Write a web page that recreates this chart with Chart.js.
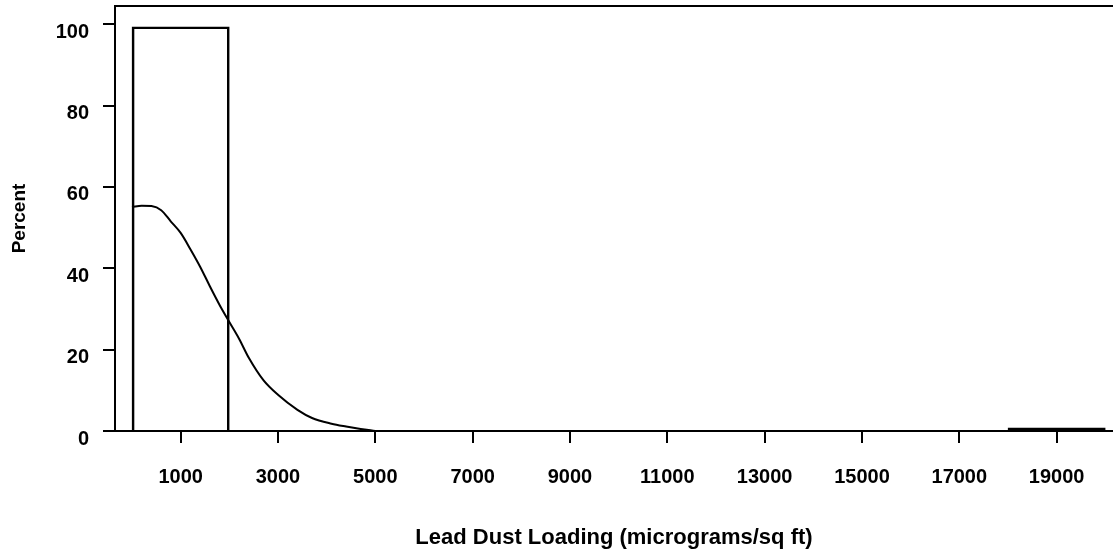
<!DOCTYPE html>
<html>
<head>
<meta charset="utf-8">
<script src="https://cdn.jsdelivr.net/npm/chart.js@4/dist/chart.umd.min.js"></script>
<style>
  html, body { margin: 0; padding: 0; background: #fff; }
  #wrap { width: 1113px; height: 552px; position: relative; }
</style>
</head>
<body>
<div id="wrap"><canvas id="myChart"></canvas></div>
<script>
// Histogram bins (midpoints) and percent in each bin
var binMids = [1000, 3000, 5000, 7000, 9000, 11000, 13000, 15000, 17000, 19000];
var binPct = [99.4, 0, 0, 0, 0, 0, 0, 0, 0, 0.8];

// Fitted normal curve
var curveX = [0, 200, 400, 600, 800, 1000, 1200, 1400, 1600, 1800, 2000, 2200, 2400, 2700, 3000, 3400, 3700, 4100, 4400, 4700, 5000];
var curveY = [55.1, 55.4, 55.3, 54.3, 51.5, 48.7, 44.7, 40.4, 35.6, 31.0, 26.8, 22.7, 18.0, 12.5, 8.9, 5.2, 3.2, 1.8, 1.1, 0.5, 0];

// Tick labels
var xTicks = [1000, 3000, 5000, 7000, 9000, 11000, 13000, 15000, 17000, 19000];
var yTicks = [0, 20, 40, 60, 80, 100];

var fam = '"Liberation Sans", Arial, sans-serif';

// Build the data for the library
var barData = [];
for (var i = 0; i < binMids.length; i++) {
      barData.push({ x: binMids[i], y: binPct[i] });
}
var lineData = [];
for (var j = 0; j < curveX.length; j++) {
      lineData.push({ x: curveX[j], y: curveY[j] });
}

// top frame line of the plot
var topLine = {
      id: 'topLine',
      afterDraw: function (chart) {
            var a = chart.chartArea;
            var c = chart.ctx;
            c.save();
            c.strokeStyle = '#000';
            c.lineWidth = 2;
            c.beginPath();
            c.moveTo(a.left - 1, a.top);
            c.lineTo(a.right, a.top);
            c.stroke();
            c.restore();
      }
};

function noPad(s) {
      s.paddingTop = 0;
      s.paddingBottom = 0;
      s.paddingLeft = 0;
      s.paddingRight = 0;
}

const ctx = document.getElementById('myChart').getContext('2d');
let myChart = new Chart(ctx, {
      data: {
            datasets: [{
                  type: 'bar',
                  data: barData,
                  // very short bars come out as a solid line
                  backgroundColor: function (c) {
                        var v = c.raw ? c.raw.y : 0;
                        return v > 0 && v < 2 ? '#000' : 'rgba(0,0,0,0)';
                  },
                  borderColor: '#000',
                  borderWidth: 2,
                  borderSkipped: 'start',
                  barPercentage: 1,
                  categoryPercentage: 1
            },
            {
                  type: 'line',
                  data: lineData,
                  borderColor: '#000',
                  borderWidth: 2,
                  pointRadius: 0,
                  fill: false,
                  cubicInterpolationMode: 'monotone'
            }]
      },
      options: {
            responsive: true,
            maintainAspectRatio: false,
            animation: false,
            layout: { padding: { top: 6, right: 0, left: 0, bottom: 0 } },
            plugins: {
                  legend: { display: false },
                  tooltip: { enabled: false }
            },
            scales: {
                  x: {
                        type: 'linear',
                        min: -349,
                        max: 20158,
                        offset: false,
                        afterBuildTicks: function (s) {
                              s.ticks = xTicks.map(function (v) { return { value: v }; });
                        },
                        afterFit: function (s) { s.height = 121; noPad(s); },
                        grid: { offset: false, drawOnChartArea: false, tickLength: 12, color: '#000', lineWidth: 2 },
                        border: { display: true, color: '#000', width: 2 },
                        ticks: {
                              color: '#000',
                              padding: 22,
                              maxRotation: 0,
                              autoSkip: false,
                              callback: function (v) { return String(v); },
                              font: { family: fam, size: 20, weight: 'bold' }
                        },
                        title: {
                              display: true,
                              text: 'Lead Dust Loading (micrograms/sq ft)',
                              color: '#000',
                              padding: { top: 0, bottom: 1 },
                              font: { family: fam, size: 22, weight: 'bold' }
                        }
                  },
                  y: {
                        min: 0,
                        max: 104.5,
                        afterBuildTicks: function (s) {
                              s.ticks = yTicks.map(function (v) { return { value: v }; });
                        },
                        afterFit: function (s) { s.width = 115; noPad(s); },
                        grid: { drawOnChartArea: false, tickLength: 12, color: '#000', lineWidth: 2 },
                        border: { display: true, color: '#000', width: 2 },
                        ticks: {
                              color: '#000',
                              padding: 14,
                              labelOffset: 8,
                              callback: function (v) { return String(v); },
                              font: { family: fam, size: 20, weight: 'bold' }
                        },
                        title: {
                              display: true,
                              text: 'Percent',
                              color: '#000',
                              padding: { top: 8, bottom: 0 },
                              font: { family: fam, size: 19, weight: 'bold' }
                        }
                  }
            }
      },
      plugins: [topLine]
});
</script>
</body>
</html>
